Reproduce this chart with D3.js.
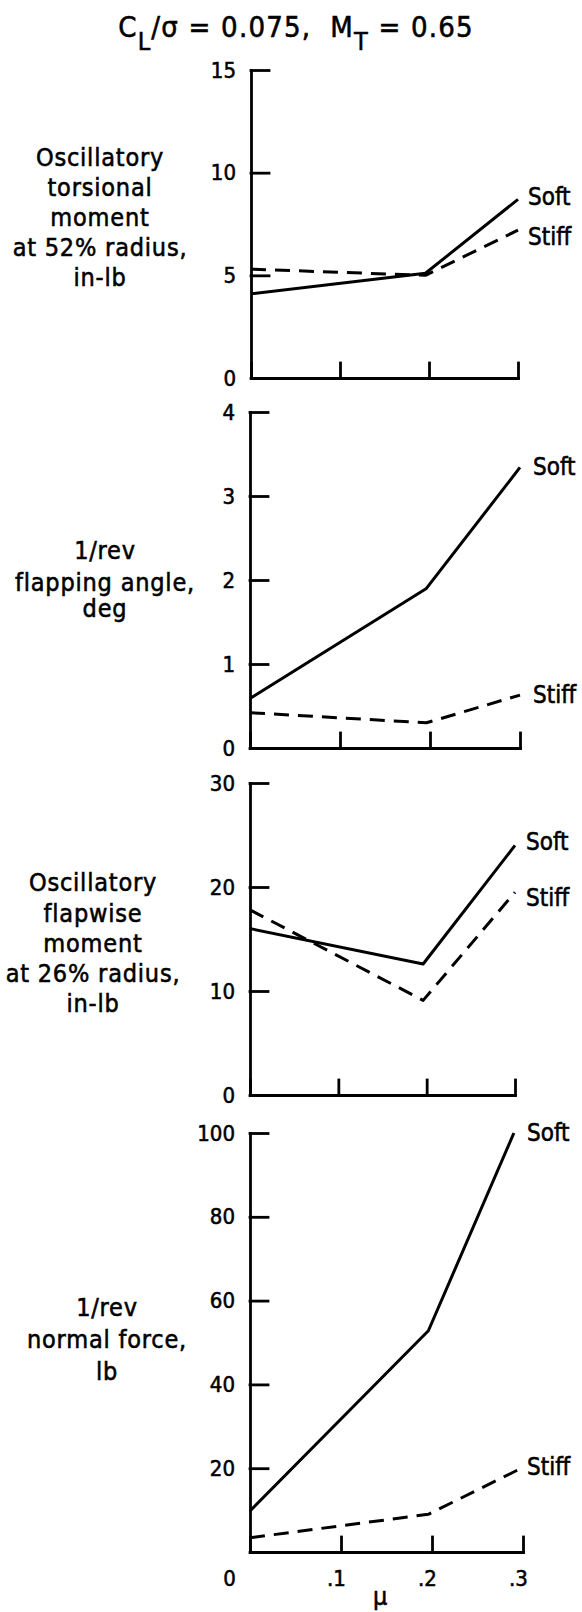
<!DOCTYPE html>
<html><head><meta charset="utf-8">
<script src="https://cdn.jsdelivr.net/npm/d3@7"></script>
<style>
html,body{margin:0;padding:0;background:#fff;}
svg{display:block;}
text{font-family:"DejaVu Sans Condensed","DejaVu Sans",sans-serif;font-stretch:condensed;fill:#000;stroke:#000;stroke-width:0.55px;}
</style></head><body>
<svg id="chart" width="582" height="1612"></svg>
<script>
// ---- data ----
const muTicks = [0, 0.1, 0.2, 0.3];
const muTickLabels = ["0", ".1", ".2", ".3"];
const muPoints = [0, 0.196, 0.3];
const muPointsNormalSoft = [0, 0.196, 0.29];
const seriesNames = ["Soft", "Stiff"];

const torsionSoft = [4.1, 5.1, 8.7];
const torsionStiff = [5.3, 5.0, 7.2];
const torsionTicks = [0, 5, 10, 15];

const flapAngleSoft = [0.59, 1.90, 3.34];
const flapAngleStiff = [0.42, 0.30, 0.63];
const flapAngleTicks = [0, 1, 2, 3, 4];

const flapMomentSoft = [16.0, 12.6, 24.0];
const flapMomentStiff = [17.8, 9.1, 19.5];
const flapMomentTicks = [0, 10, 20, 30];

const normalForceSoft = [9.8, 52.8, 100];
const normalForceStiff = [3.4, 9.0, 20.2];
const normalForceTicks = [0, 20, 40, 60, 80, 100];

const yLabels = [
  ["Oscillatory", "torsional", "moment", "at 52% radius,", "in-lb"],
  ["1/rev", "flapping angle,", "deg"],
  ["Oscillatory", "flapwise", "moment", "at 26% radius,", "in-lb"],
  ["1/rev", "normal force,", "lb"]
];
const xAxisTitle = "\u03bc";

// ---- layout (positions/styles only) ----
const layout = [
  {top: 70,  bottom: 378,  x0: 251, x1: 518, labelX: 100, baselines: [166, 196, 226, 256, 286], serX: 528, softDy: -2, stiffDy: 7},
  {top: 412, bottom: 748,  x0: 250, x1: 520, labelX: 105, baselines: [559, 591, 617],           serX: 533, softDy: 0,  stiffDy: 0},
  {top: 783, bottom: 1095, x0: 250, x1: 515, labelX: 93,  baselines: [891, 922, 952, 982, 1012], serX: 526, softDy: -3, stiffDy: 6},
  {top: 1133,bottom: 1552, x0: 250, x1: 523, labelX: 107, baselines: [1316, 1348, 1380],        serX: 527, softDy: 0,  stiffDy: 0}
];

const panels = [
  {soft: torsionSoft, stiff: torsionStiff, softMu: muPoints, stiffMu: muPoints, ticks: torsionTicks},
  {soft: flapAngleSoft, stiff: flapAngleStiff, softMu: muPoints, stiffMu: muPoints, ticks: flapAngleTicks},
  {soft: flapMomentSoft, stiff: flapMomentStiff, softMu: muPoints, stiffMu: muPoints, ticks: flapMomentTicks},
  {soft: normalForceSoft, stiff: normalForceStiff, softMu: muPointsNormalSoft, stiffMu: muPoints, ticks: normalForceTicks}
];

const svg = d3.select("#chart");
svg.append("rect").attr("width", 582).attr("height", 1612).attr("fill", "#fff");

// title
const title = svg.append("text").attr("x", 296).attr("y", 37)
  .attr("text-anchor", "middle").attr("font-size", 29)
  .attr("letter-spacing", 1.2).style("white-space", "pre");
title.append("tspan").text("C");
title.append("tspan").attr("dy", 13).attr("font-size", 25).text("L");
title.append("tspan").attr("dy", -13).text("/\u03c3 = 0.075,  M");
title.append("tspan").attr("dy", 13).attr("font-size", 25).text("T");
title.append("tspan").attr("dy", -13).text(" = 0.65");

panels.forEach((p, i) => {
  const L = layout[i];
  const last = i === panels.length - 1;
  const x = d3.scaleLinear().domain([0, 0.3]).range([L.x0, L.x1]);
  const y = d3.scaleLinear().domain([0, d3.max(p.ticks)]).range([L.bottom, L.top]);
  const g = svg.append("g");

  // y axis
  const yAxis = d3.axisLeft(y).tickValues(p.ticks)
    .tickSizeInner(-18).tickSizeOuter(0).tickPadding(15)
    .tickFormat(d => (last && d === 0) ? "" : d3.format("d")(d));
  const ya = g.append("g").attr("transform", `translate(${L.x0},0)`).call(yAxis)
    .attr("font-size", 22).attr("font-family", null);
  ya.selectAll("path,line").attr("stroke", "#000").attr("stroke-width", 2.8).attr("stroke-linecap", "square");

  // x axis
  const xAxis = d3.axisBottom(x).tickValues(muTicks)
    .tickSizeInner(-15).tickSizeOuter(0).tickPadding(18)
    .tickFormat((d, j) => last ? muTickLabels[j] : "");
  const xa = g.append("g").attr("transform", `translate(0,${L.bottom})`).call(xAxis)
    .attr("font-size", 22).attr("font-family", null);
  xa.selectAll("path,line").attr("stroke", "#000").attr("stroke-width", 2.8).attr("stroke-linecap", "square");
  xa.selectAll("text").attr("dx", (d, j) => j === 0 ? -21 : -5);

  // series lines
  const line = d3.line().x(d => x(d[0])).y(d => y(d[1]));
  const softPts = p.softMu.map((m, k) => [m, p.soft[k]]);
  const stiffPts = p.stiffMu.map((m, k) => [m, p.stiff[k]]);
  g.append("path").datum(softPts).attr("d", line)
    .attr("fill", "none").attr("stroke", "#000").attr("stroke-width", 3)
    .attr("stroke-linejoin", "round");
  g.append("path").datum(stiffPts).attr("d", line)
    .attr("fill", "none").attr("stroke", "#000").attr("stroke-width", 3)
    .attr("stroke-dasharray", "15,9").attr("stroke-linejoin", "round");

  // series labels
  const ends = [
    {name: seriesNames[0], v: p.soft[p.soft.length - 1], dy: L.softDy},
    {name: seriesNames[1], v: p.stiff[p.stiff.length - 1], dy: L.stiffDy}
  ];
  g.selectAll("text.ser").data(ends).join("text").attr("class", "ser")
    .attr("x", L.serX).attr("y", d => y(d.v) + d.dy)
    .attr("dominant-baseline", "central").attr("font-size", 24)
    .text(d => d.name);

  // y label
  g.selectAll("text.ylab").data(yLabels[i]).join("text").attr("class", "ylab")
    .attr("x", L.labelX).attr("y", (d, k) => L.baselines[k])
    .attr("text-anchor", "middle").attr("font-size", 25)
    .attr("letter-spacing", 0.8)
    .text(d => d);

  if (last) {
    g.append("text").attr("x", x(0.143)).attr("y", 1605)
      .attr("text-anchor", "middle").attr("font-size", 25).text(xAxisTitle);
  }
});
</script>
</body></html>
